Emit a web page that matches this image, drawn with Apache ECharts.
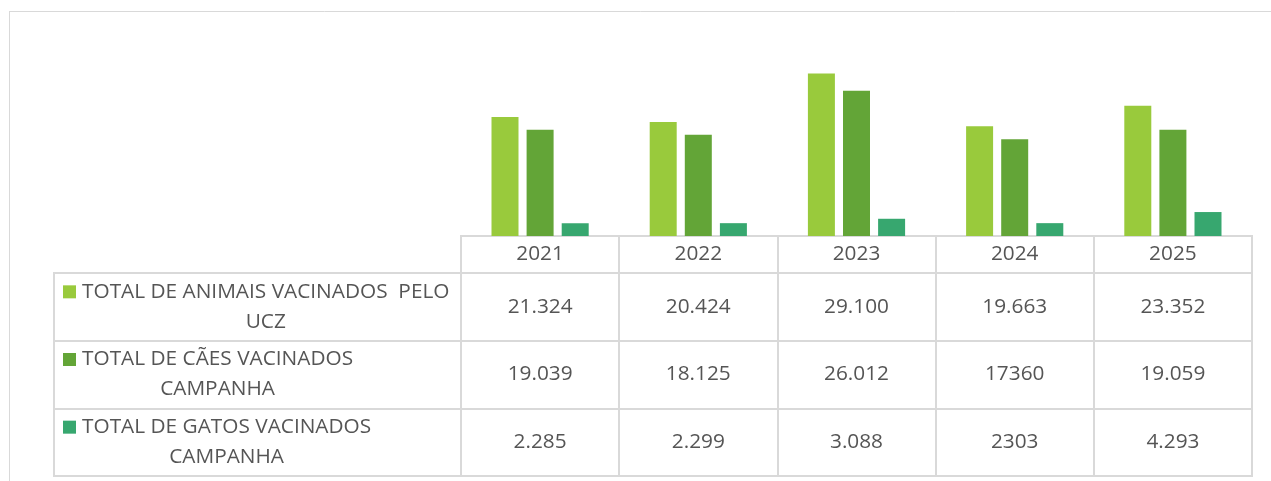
<!DOCTYPE html>
<html>
<head>
<meta charset="utf-8">
<script src="https://cdn.jsdelivr.net/npm/echarts@6/dist/echarts.min.js"></script>
<style>
  html, body { margin: 0; padding: 0; background: #ffffff; }
  #vacinas { width: 1271px; height: 481px; }
</style>
</head>
<body>
<div id="vacinas"></div>
<script>
// anos (categorias)
var anos = ["2021", "2022", "2023", "2024", "2025"];

// séries
var nomesSeries = [
  "TOTAL DE ANIMAIS VACINADOS  PELO UCZ",
  "TOTAL DE CÃES VACINADOS CAMPANHA",
  "TOTAL DE GATOS VACINADOS CAMPANHA"
];
var animais = [21324, 20424, 29100, 19663, 23352];
var caes = [19039, 18125, 26012, 17360, 19059];
var gatos = [2285, 2299, 3088, 2303, 4293];

// textos da tabela de dados, como aparecem
var textoAnimais = ["21.324", "20.424", "29.100", "19.663", "23.352"];
var textoCaes = ["19.039", "18.125", "26.012", "17360", "19.059"];
var textoGatos = ["2.285", "2.299", "3.088", "2303", "4.293"];

var cores = ["#99CA3C", "#63A537", "#37A76F"];
var corTexto = "#555555";
var corLinha = "#d9d9d9";
var fonte = "Open Sans";
var tamFonte = 20.8;

var textos = [textoAnimais, textoCaes, textoGatos];

// pontos invisíveis (um por célula) que carregam o texto
var celulas = [];
textos.forEach(function (linha, r) {
  linha.forEach(function (t, c) {
    celulas.push([c, r]);
  });
});

// rótulos da legenda dentro da tabela (quebra de linha como no original)
var linhasLegenda = [
  ["TOTAL DE ANIMAIS VACINADOS  PELO", "UCZ"],
  ["TOTAL DE CÃES VACINADOS", "CAMPANHA"],
  ["TOTAL DE GATOS VACINADOS", "CAMPANHA"]
];

var rich = {
  g: { width: 6, align: "left" },
  s: { width: 19, align: "left" },
  t: {
    align: "center", lineHeight: 30, fontFamily: fonte,
    fontSize: tamFonte, color: corTexto
  }
};
cores.forEach(function (cor, i) {
  rich["k" + i] = {
    width: 13, height: 13, backgroundColor: cor,
    align: "left", verticalAlign: "middle"
  };
});

var myChart = echarts.init(document.getElementById("vacinas"));

var option = {
  animation: false,
  backgroundColor: "#ffffff",
  textStyle: { fontFamily: fonte },
  grid: [
    // barras
    { left: 461, right: 19, top: 40.7, bottom: 245 },
    // cabeçalho (anos)
    { left: 461, right: 19, top: 236, height: 37, show: true, borderColor: corLinha, borderWidth: 2 },
    // coluna dos nomes
    { left: 54, width: 407, top: 273, bottom: 5, show: true, borderColor: corLinha, borderWidth: 2 },
    // valores
    { left: 461, right: 19, top: 273, bottom: 5, show: true, borderColor: corLinha, borderWidth: 2 },
    // moldura externa: só topo e lado esquerdo aparecem
    { left: 9.5, top: 11.5, right: 0, bottom: 0 }
  ],
  xAxis: [
    {
      gridIndex: 0, type: "category", data: anos,
      axisLine: { show: false }, axisTick: { show: false },
      axisLabel: {
        interval: 0, margin: 18.5, verticalAlign: "middle",
        color: corTexto, fontFamily: fonte, fontSize: tamFonte
      }
    },
    {
      gridIndex: 1, type: "category", data: anos,
      axisLine: { show: false }, axisTick: { show: false }, axisLabel: { show: false },
      splitLine: { show: true, interval: 0, lineStyle: { color: corLinha, width: 2 } }
    },
    { gridIndex: 2, type: "value", show: false },
    {
      gridIndex: 3, type: "category", data: anos,
      axisLine: { show: false }, axisTick: { show: false }, axisLabel: { show: false },
      splitLine: { show: true, interval: 0, lineStyle: { color: corLinha, width: 2 } }
    },
    {
      gridIndex: 4, type: "value", position: "top",
      axisLine: { show: true, onZero: false, lineStyle: { color: corLinha, width: 1 } },
      axisTick: { show: false }, axisLabel: { show: false }, splitLine: { show: false }
    }
  ],
  yAxis: [
    { gridIndex: 0, type: "value", min: 0, max: 35000, show: false },
    { gridIndex: 1, type: "value", show: false },
    {
      gridIndex: 2, type: "category", inverse: true, data: nomesSeries,
      axisLine: { show: false }, axisTick: { show: false },
      splitLine: { show: true, interval: 0, lineStyle: { color: corLinha, width: 2 } },
      axisLabel: {
        inside: true, margin: 9, interval: 0, verticalAlign: "middle",
        formatter: function (v, i) {
          var l = linhasLegenda[i];
          return "{k" + i + "|}{g|}{t|" + l[0] + "}\n{s|}{t|" + l[1] + "}";
        },
        rich: rich
      }
    },
    {
      gridIndex: 3, type: "category", inverse: true, data: nomesSeries,
      show: true,
      axisLine: { show: false }, axisTick: { show: false }, axisLabel: { show: false },
      splitLine: { show: true, interval: 0, lineStyle: { color: corLinha, width: 2 } }
    },
    {
      gridIndex: 4, type: "value", position: "left",
      axisLine: { show: true, onZero: false, lineStyle: { color: corLinha, width: 1 } },
      axisTick: { show: false }, axisLabel: { show: false }, splitLine: { show: false }
    }
  ],
  series: [
    {
      name: nomesSeries[0], type: "bar", xAxisIndex: 0, yAxisIndex: 0,
      data: animais, barWidth: 27, barGap: "30%",
      itemStyle: { color: cores[0] }
    },
    {
      name: nomesSeries[1], type: "bar", xAxisIndex: 0, yAxisIndex: 0,
      data: caes, barWidth: 27, barGap: "30%",
      itemStyle: { color: cores[1] }
    },
    {
      name: nomesSeries[2], type: "bar", xAxisIndex: 0, yAxisIndex: 0,
      data: gatos, barWidth: 27, barGap: "30%",
      itemStyle: { color: cores[2] }
    },
    {
      // textos da tabela
      type: "scatter", xAxisIndex: 3, yAxisIndex: 3,
      data: celulas, symbolSize: 1,
      itemStyle: { color: "rgba(0,0,0,0)" },
      silent: true,
      label: {
        show: true, position: "inside",
        color: corTexto, fontFamily: fonte, fontSize: tamFonte,
        textBorderWidth: 0, opacity: 1,
        formatter: function (p) {
          return textos[p.value[1]][p.value[0]];
        }
      }
    }
  ]
};

myChart.setOption(option);
window.addEventListener("resize", function () {
  myChart.resize();
});
</script>
</body>
</html>
